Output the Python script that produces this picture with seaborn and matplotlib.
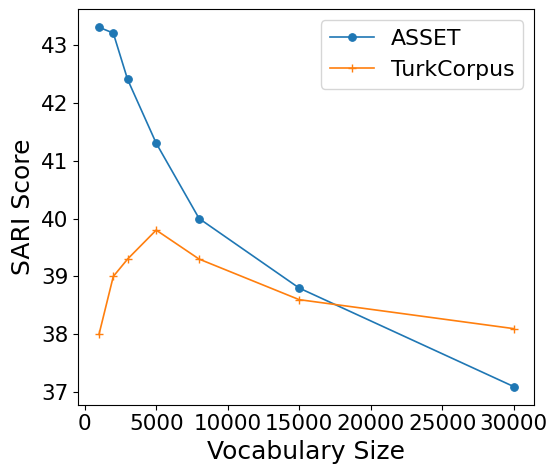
import matplotlib
matplotlib.use("Agg")
import matplotlib.pyplot as plt
import seaborn as sns
import pandas as pd

vocab_sizes = [1000, 2000, 3000, 5000, 8000, 15000, 30000]
asset_scores = [43.3, 43.2, 42.4, 41.3, 40.0, 38.8, 37.1]
turk_scores = [38.0, 39.0, 39.3, 39.8, 39.3, 38.6, 38.1]

df = pd.DataFrame({"vocab": vocab_sizes, "ASSET": asset_scores, "TurkCorpus": turk_scores})

fig, ax = plt.subplots(figsize=(5.51, 4.65), dpi=100)
sns.lineplot(data=df, x="vocab", y="ASSET", ax=ax, marker="o", markersize=5.5,
             markeredgecolor="#1f77b4", color="#1f77b4", linewidth=1.2, label="ASSET")
sns.lineplot(data=df, x="vocab", y="TurkCorpus", ax=ax, marker="+", markersize=6,
             markeredgecolor="#ff7f0e", markeredgewidth=1, color="#ff7f0e",
             linewidth=1.2, label="TurkCorpus")
ax.set_xlabel("Vocabulary Size", fontsize=18)
ax.set_ylabel("SARI Score", fontsize=18)
ax.tick_params(labelsize=15.5)
ax.set_xticks([0, 5000, 10000, 15000, 20000, 25000, 30000])
ax.legend(fontsize=15.8, loc="upper right")
fig.subplots_adjust(left=0.142, right=0.97, top=0.98, bottom=0.13)
fig.savefig("out.png", dpi=100)
